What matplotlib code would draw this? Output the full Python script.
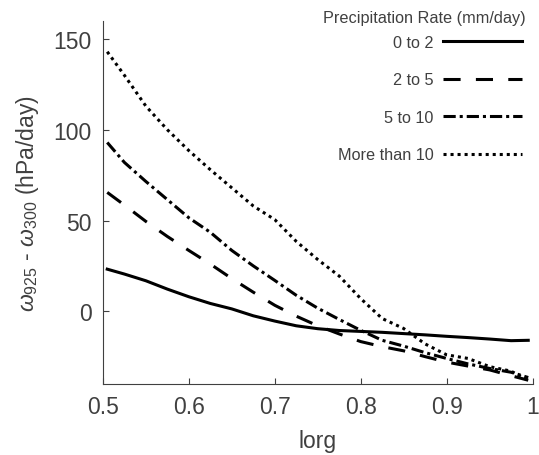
import matplotlib.pyplot as plt
from matplotlib.ticker import FuncFormatter

plt.rcParams['font.family'] = ['Liberation Sans', 'DejaVu Sans']
plt.rcParams['mathtext.fontset'] = 'custom'
plt.rcParams['mathtext.rm'] = 'Liberation Sans'
plt.rcParams['mathtext.it'] = 'Liberation Sans:italic'

# lorg bins
lorg = [0.505, 0.525, 0.55, 0.575, 0.6, 0.625, 0.65, 0.675, 0.7, 0.725, 0.75,
        0.775, 0.8, 0.825, 0.85, 0.875, 0.9, 0.925, 0.95, 0.975, 0.995]

# omega925 - omega300 (hPa/day) for each precip class
p0_2 = [23.2, 20.5, 16.8, 12.2, 8.0, 4.3, 1.3, -2.5, -5.4, -8.0, -9.6,
        -10.6, -11.1, -11.6, -12.3, -13.0, -13.8, -14.5, -15.3, -16.2, -16.0]
p2_5 = [65.5, 58.5, 49.5, 41.2, 33.5, 26.0, 18.0, 10.5, 3.3, -2.7, -8.0,
        -12.5, -16.7, -19.5, -21.8, -25.0, -28.0, -30.2, -32.3, -35.5, -38.0]
p5_10 = [93.0, 82.0, 71.5, 61.5, 51.5, 43.5, 33.5, 25.0, 17.0, 8.8, 1.7,
         -4.5, -10.5, -16.0, -19.2, -22.8, -26.0, -29.0, -31.5, -33.6, -36.5]
p10 = [143.0, 130.0, 113.0, 100.0, 88.5, 78.0, 68.0, 58.0, 50.5, 38.5, 28.5,
       19.4, 7.0, -4.0, -9.5, -18.0, -24.0, -26.0, -30.5, -33.0, -38.0]

labels = ['0 to 2', '2 to 5', '5 to 10', 'More than 10']

grey = '#404040'
lw = 2.2

fig = plt.figure(figsize=(5.39, 4.56), dpi=100)
ax = fig.add_axes([0.191, 0.156, 0.797, 0.796])

ax.plot(lorg, p0_2, color='k', lw=lw, ls='-', label=labels[0])
ax.plot(lorg, p2_5, color='k', lw=lw, dashes=(5.6, 5.0), label=labels[1])
ax.plot(lorg, p5_10, color='k', lw=lw, dashes=(4.0, 1.3, 1.0, 1.3), label=labels[2])
ax.plot(lorg, p10, color='k', lw=lw, dashes=(1.0, 1.3), label=labels[3])

ax.set_xlim(0.5, 1)
ax.set_ylim(-40, 160)
ax.set_xticks([0.5, 0.6, 0.7, 0.8, 0.9, 1.0])
ax.set_yticks([0, 50, 100, 150])
ax.xaxis.set_major_formatter(FuncFormatter(lambda v, p: '%g' % v))

for s in ['top', 'right']:
    ax.spines[s].set_visible(False)
for s in ['left', 'bottom']:
    ax.spines[s].set_color(grey)
    ax.spines[s].set_linewidth(0.8)

ax.tick_params(direction='in', length=4, width=0.8, color=grey,
               labelcolor=grey, labelsize=16.5, pad=8)

ax.set_xlabel('lorg', fontsize=16.5, color=grey)
ax.xaxis.set_label_coords(0.5, -0.125)
ax.set_ylabel(r'$\omega_{925}$ - $\omega_{300}$ (hPa/day)', fontsize=16.5, color=grey)
ax.yaxis.set_label_coords(-0.145, 0.5)

# legend title drawn on its own so the gap to the first row matches
fig.text(424 / 539, 1 - 19 / 456, 'Precipitation Rate (mm/day)', fontsize=11.7,
         color=grey, ha='center', va='center')
leg = ax.legend(loc='upper right', bbox_to_anchor=(522 / 539, 1 - 36 / 456),
                bbox_transform=fig.transFigure, frameon=False, markerfirst=False,
                fontsize=11.7, handlelength=4.85, handletextpad=0.6,
                labelspacing=1.38, borderpad=0, borderaxespad=0)
for t in leg.get_texts():
    t.set_color(grey)

fig.savefig('out.png', dpi=100)
